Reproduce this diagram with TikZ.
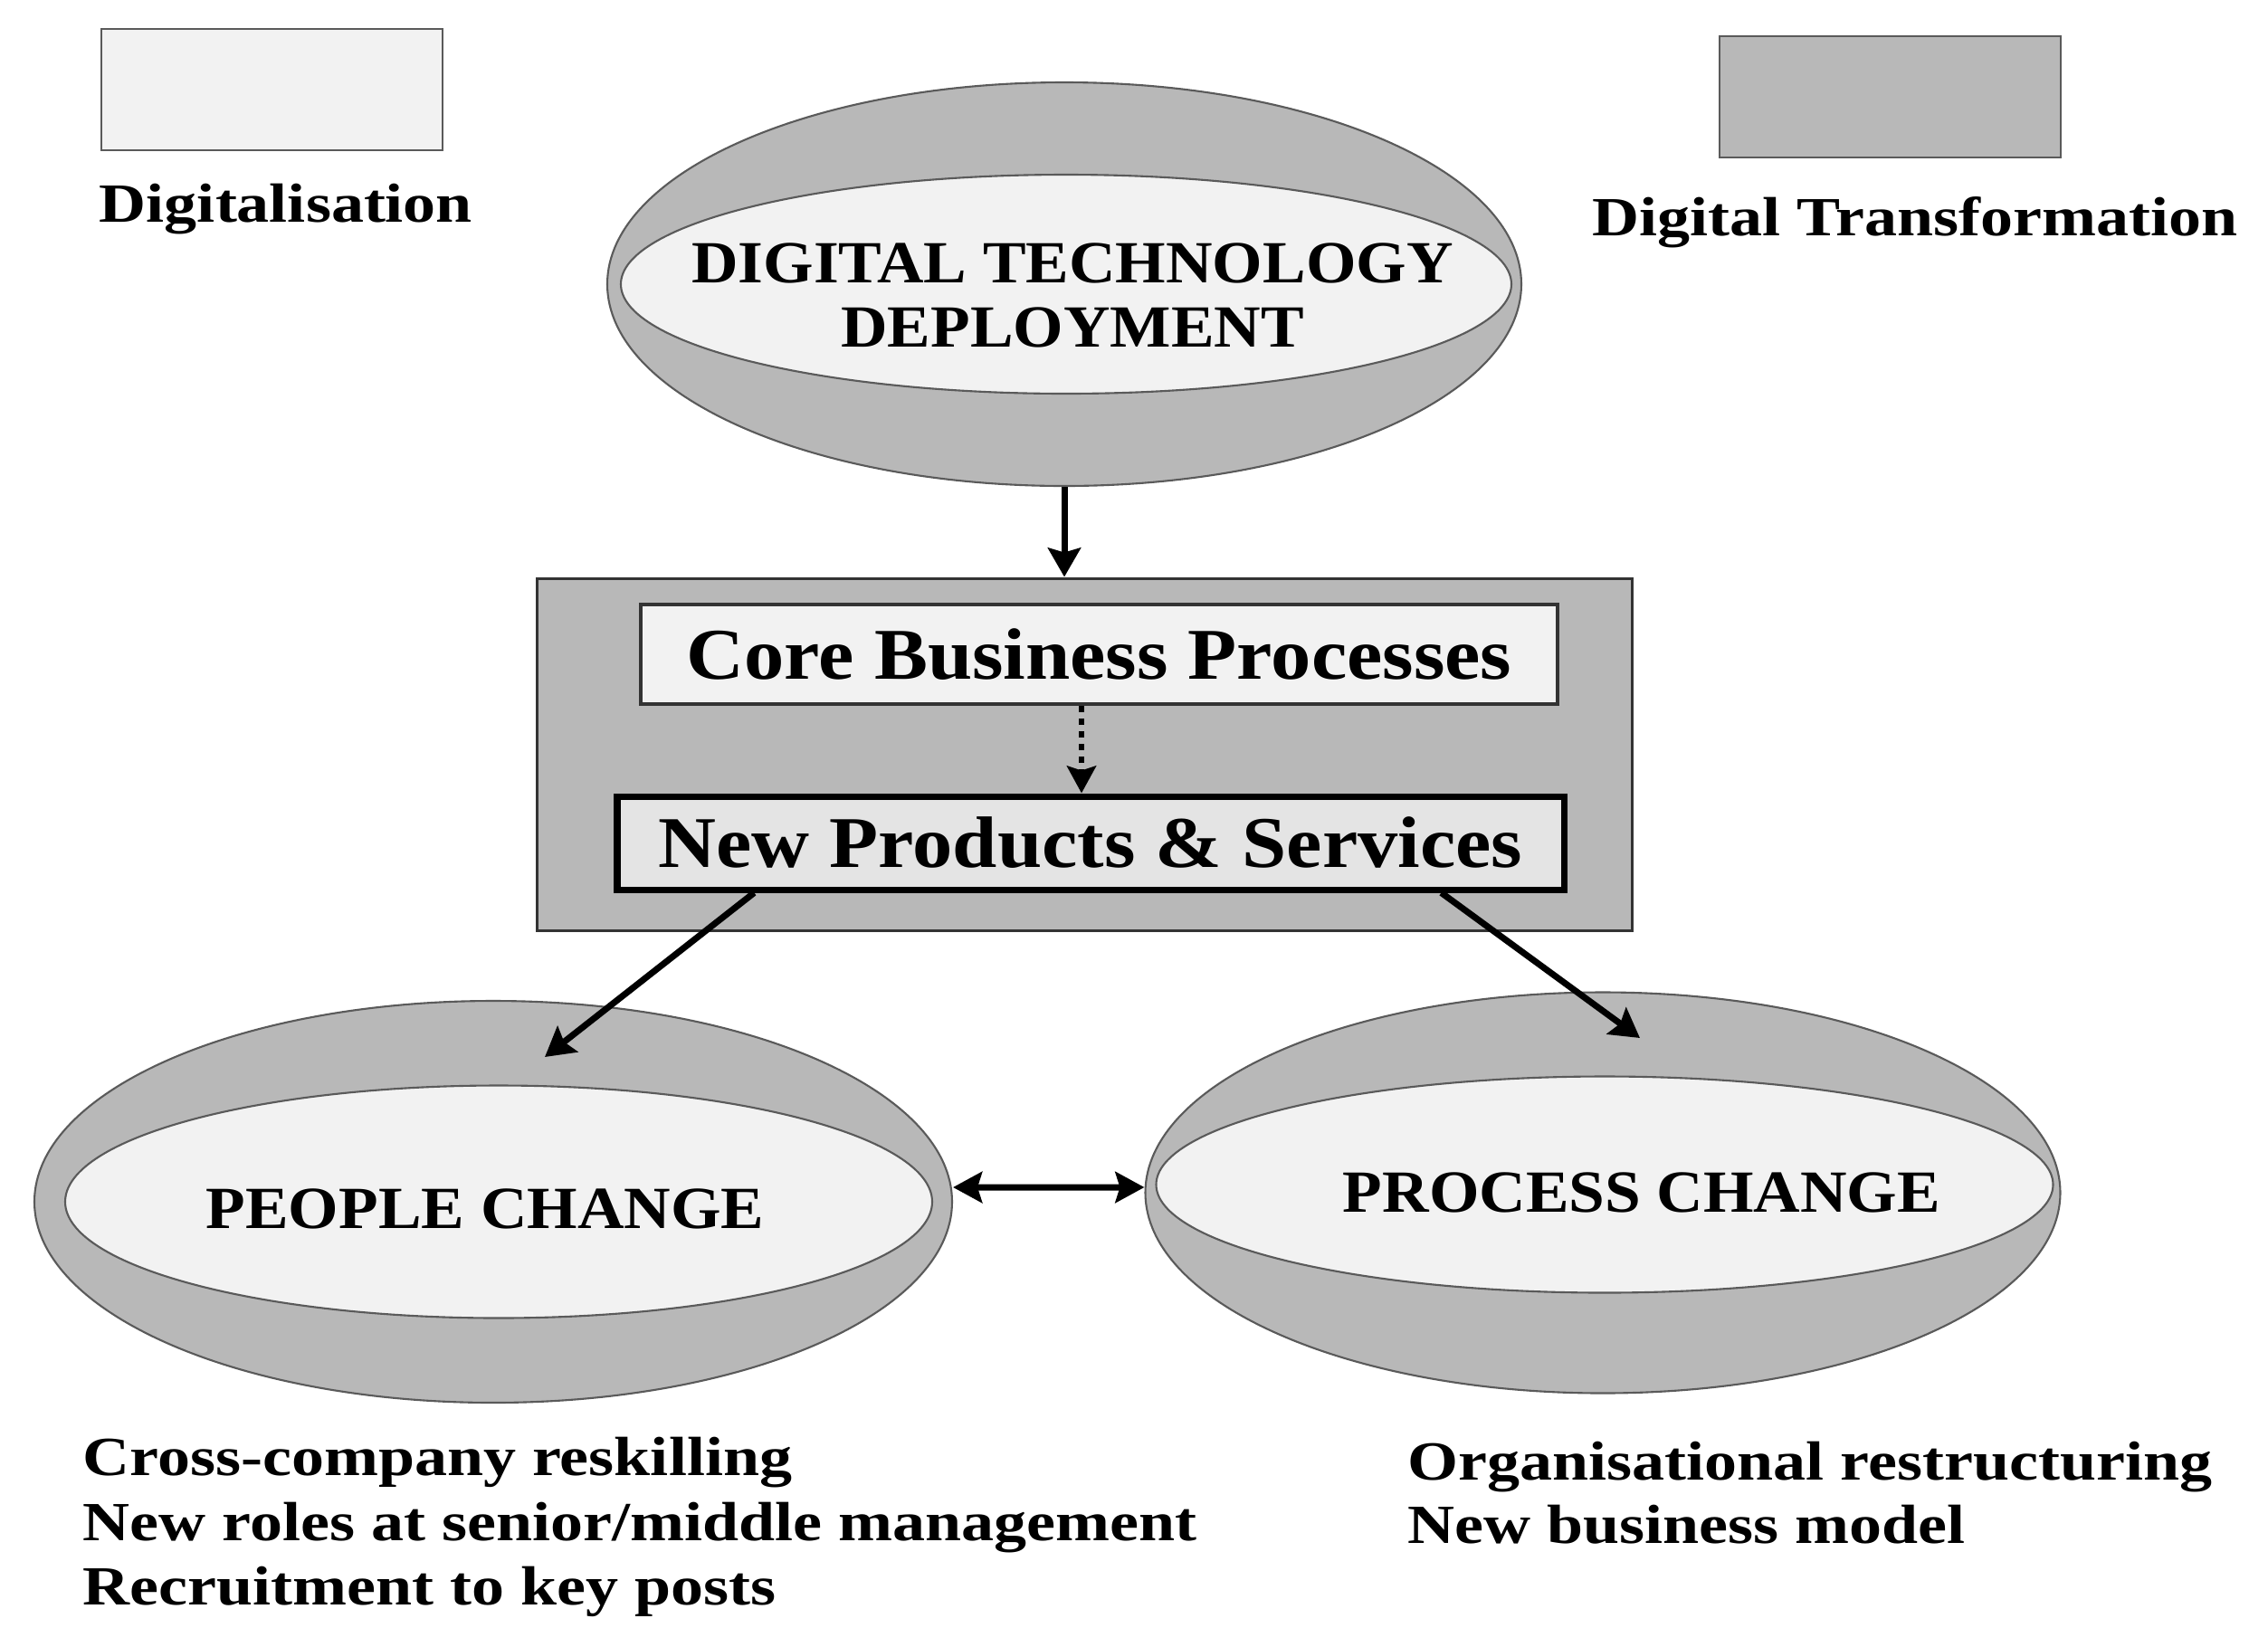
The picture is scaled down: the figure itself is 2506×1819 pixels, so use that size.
\documentclass[tikz,border=0pt]{standalone}
\usepackage{fontspec}
\usetikzlibrary{shapes.geometric,arrows.meta,calc}
\newfontfamily\fA[FakeStretch=1.18]{Liberation Serif}
\newfontfamily\fB[FakeStretch=1.10]{Liberation Serif}
\newfontfamily\fC[FakeStretch=1.08]{Liberation Serif}
\definecolor{lightfill}{RGB}{242,242,242}
\definecolor{midfill}{RGB}{228,228,228}
\definecolor{darkfill}{RGB}{184,184,184}
\definecolor{edgegray}{RGB}{90,90,90}
\tikzset{
  legendbox/.style={rectangle, draw=edgegray, line width=0.5pt, inner sep=0pt,
    minimum width=37.7mm, minimum height=13.4mm},
  outerell/.style={ellipse, draw=edgegray, line width=0.6pt, fill=darkfill, inner sep=0pt},
  innerell/.style={ellipse, draw=edgegray, line width=0.6pt, fill=lightfill, inner sep=0pt},
  legendtext/.style={inner sep=0pt, anchor=base, font=\fA\bfseries\fontsize{17.36pt}{20.5pt}\selectfont},
  listtext/.style={inner sep=0pt, anchor=base west, font=\fA\bfseries\fontsize{17.36pt}{20.5pt}\selectfont},
  capstext/.style={inner sep=0pt, align=center, font=\fC\bfseries\fontsize{18.8pt}{20.2pt}\selectfont},
  boxtext/.style={font=\fB\bfseries\fontsize{22.9pt}{24pt}\selectfont},
  tip/.style={Stealth[length=3.2mm,width=3.6mm,inset=0.5mm]},
  arr/.style={line width=2pt, -{Stealth[length=3.2mm,width=3.6mm,inset=0.5mm]}},
}
\begin{document}
\begin{tikzpicture}[x=0.1mm, y=-0.1mm]
\useasboundingbox (0,0) rectangle (2506,1819);
% legend
\node[legendbox, fill=lightfill] (legL) at (300.5,99) {};
\node[legendbox, fill=darkfill] (legR) at (2088.5,107) {};
\node[legendtext] (legLt) at (316,245) {Digitalisation};
\node[legendtext] (legRt) at (2116,260) {Digital Transformation};
% top ellipse
\node[outerell, minimum width=101mm, minimum height=44.6mm] (dtdO) at (1176,314) {};
\node[innerell, minimum width=98.4mm, minimum height=24.2mm] (dtdI) at (1178,314) {};
\node[capstext] (dtdT) at (1185,326) {DIGITAL TECHNOLOGY\\DEPLOYMENT};
% central box
\node[rectangle, draw=black!80, line width=0.85pt, fill=darkfill, inner sep=0pt,
  minimum width=121mm, minimum height=38.9mm] (big) at (1198,833.5) {};
\node[rectangle, draw=black!80, line width=1.1pt, fill=lightfill, inner sep=0pt,
  minimum width=101.3mm, minimum height=11mm, boxtext] (core) at (1214.5,723) {Core Business Processes};
\node[rectangle, draw=black, line width=2pt, fill=midfill, inner sep=0pt,
  minimum width=104.6mm, minimum height=10.3mm, boxtext] (nps) at (1205,931.5) {New Products \& Services};
% bottom ellipses
\node[outerell, minimum width=101.4mm, minimum height=44.4mm] (pplO) at (545,1328) {};
\node[innerell, minimum width=95.8mm, minimum height=25.7mm] (pplI) at (551,1328) {};
\node[capstext] (pplT) at (536,1336) {PEOPLE CHANGE};
\node[outerell, minimum width=101.1mm, minimum height=44.3mm] (prcO) at (1771,1318) {};
\node[innerell, minimum width=99.1mm, minimum height=23.9mm] (prcI) at (1773,1309) {};
\node[capstext] (prcT) at (1814,1318) {PROCESS CHANGE};
% lists
\node[listtext] (l1) at (91,1630) {Cross-company reskilling};
\node[listtext] (l2) at (91,1702) {New roles at senior/middle management};
\node[listtext] (l3) at (91,1773) {Recruitment to key posts};
\node[listtext] (r1) at (1555,1635) {Organisational restructuring};
\node[listtext] (r2) at (1555,1705) {New business model};
% connectors
\coordinate (pplTip) at (602,1168);
\coordinate (prcTip) at (1812,1147);
\draw[arr] (dtdO.south) -- (dtdO.south |- big.north);
\draw[line width=1.8pt, dash pattern=on 2pt off 2pt, -{Stealth[length=3mm,width=3.2mm,inset=0.5mm]}] ([xshift=-1.95mm]core.south) -- ([xshift=-1.95mm]core.south |- nps.north);
\draw[arr] ($(nps.south west)!0.147!(nps.south east)$) -- (pplTip);
\draw[arr] ($(nps.south west)!0.868!(nps.south east)$) -- (prcTip);
\draw[line width=2pt, {Stealth[length=3.2mm,width=3.4mm,inset=0.5mm]}-{Stealth[length=3.2mm,width=3.4mm,inset=0.5mm]}] ([yshift=1.6mm]pplO.east) -- ([yshift=0.6mm]prcO.west);
\end{tikzpicture}
\end{document}
